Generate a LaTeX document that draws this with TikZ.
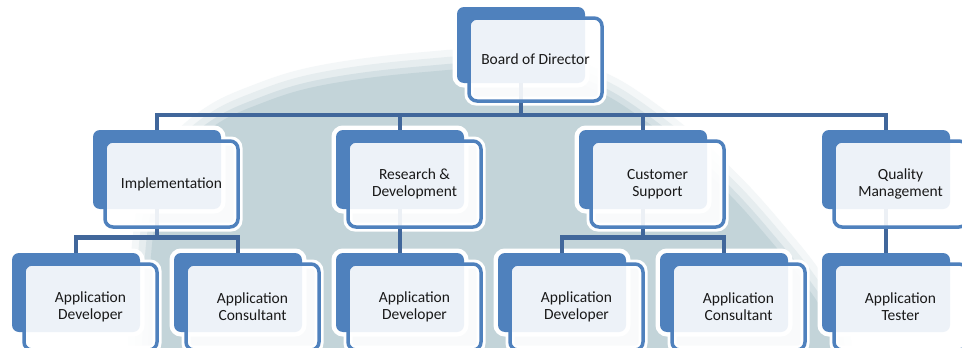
\documentclass[tikz,border=0pt]{standalone}
\usepackage{fontspec}
\setmainfont{Carlito}
\definecolor{boxblue}{HTML}{4F81BD}
\definecolor{linkblue}{HTML}{41679B}
\definecolor{bggray}{HTML}{C3D4D9}
\pgfdeclarelayer{bg}
\pgfdeclarelayer{glow}
\pgfdeclarelayer{conn}
\pgfsetlayers{bg,glow,conn,main}
\tikzset{
  backbox/.style={draw=none, fill=boxblue, rounded corners=7pt, minimum width=128pt,
    anchor=north west, inner sep=0pt, outer sep=0pt},
  frontbox/.style={draw=boxblue, line width=3.5pt, fill=white, fill opacity=0.9, text opacity=1,
    rounded corners=8pt, minimum width=133pt, anchor=north west, inner sep=0pt, outer sep=0pt,
    align=center, font=\fontsize{15.5}{17}\selectfont, text=black!90},
  glowline/.style={draw=white, line width=9pt, rounded corners=7pt},
  link/.style={draw=linkblue, line width=4.5pt}
}
\newcommand{\orgbox}[5]{%
  \begin{pgfonlayer}{glow}
    \path[glowline] (#2,#3) rectangle ++(128,#4);
    \path[glowline] (#2+12,#3+11) rectangle ++(133,#4+7);
  \end{pgfonlayer}
  \node[backbox, minimum height=#4pt] (#1) at (#2,#3) {};
  \node[frontbox, minimum height=#4pt+7pt] (#1-f) at (#2+12,#3+11) {#5};
}
\begin{document}
\begin{tikzpicture}[x=1pt,y=-1pt]
\useasboundingbox (0,0) rectangle (962,348);
\def\bgshape{plot[smooth, tension=0.6] coordinates {(148,380) (150,270) (160,200) (185,152) (220,122) (262,103) (305,89) (360,79) (425,72) (490,68) (550,74) (595,90) (630,110) (680,148) (730,195) (770,240) (802,280) (826,320) (836,380)} -- cycle}
\begin{pgfonlayer}{bg}
  \fill[white] (0,0) rectangle (962,348);
  \draw[line width=40pt, bggray!18] \bgshape;
  \draw[line width=26pt, bggray!42] \bgshape;
  \draw[line width=12pt, bggray!72] \bgshape;
  \fill[bggray] \bgshape;
\end{pgfonlayer}
% level 1
\orgbox{b}{457}{7}{76}{Board of Director}
% level 2
\orgbox{i}{93}{130}{79}{Implementation}
\orgbox{r}{336}{130}{79}{Research \&\\Development}
\orgbox{c}{579}{130}{79}{Customer\\Support}
\orgbox{q}{822}{130}{79}{Quality\\Management}
% level 3
\orgbox{i1}{12}{253}{79}{Application\\Developer}
\orgbox{i2}{174}{253}{79}{Application\\Consultant}
\orgbox{r1}{336}{253}{79}{Application\\Developer}
\orgbox{c1}{498}{253}{79}{Application\\Developer}
\orgbox{c2}{660}{253}{79}{Application\\Consultant}
\orgbox{q1}{822}{253}{79}{Application\\Tester}
\coordinate (bus0) at (0,115);
\coordinate (busi) at (0,237.5);
\coordinate (busc) at (0,237.5);
\begin{pgfonlayer}{conn}
  \foreach \k in {i,r,c,q}
    \draw[link] (b.south) -- (b.south |- bus0) -| (\k.north);
  \foreach \k in {i1,i2}
    \draw[link] (i.south) -- (i.south |- busi) -| (\k.north);
  \foreach \k in {c1,c2}
    \draw[link] (c.south) -- (c.south |- busc) -| (\k.north);
  \draw[link] (r.south) -- (r1.north);
  \draw[link] (q.south) -- (q1.north);
\end{pgfonlayer}
\end{tikzpicture}
\end{document}
